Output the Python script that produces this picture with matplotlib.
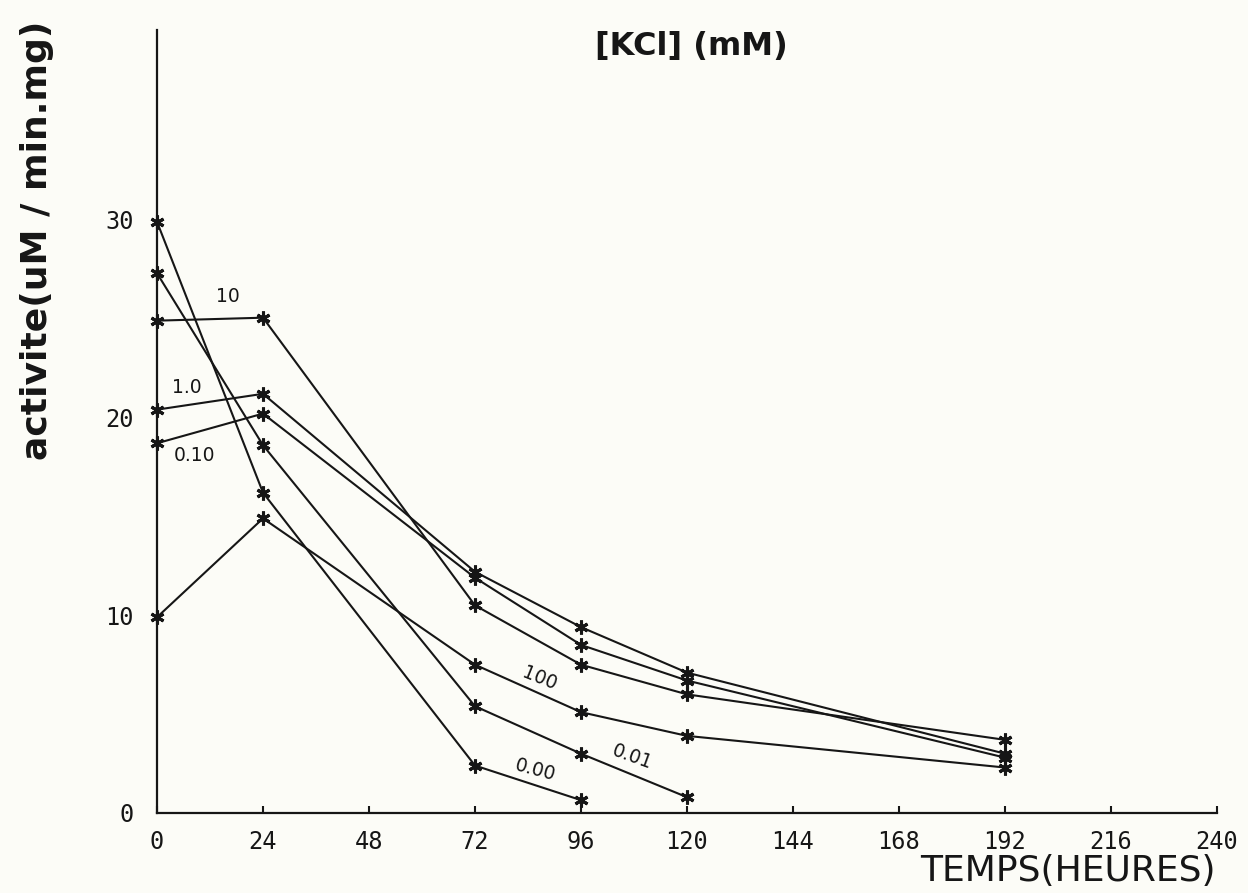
import matplotlib
matplotlib.use("Agg")
import matplotlib.pyplot as plt

# ─── DATA ─────────────────────────────────────────────────────────────────────
hours_000 = [0, 24, 72, 96]
act_000   = [29.9, 16.2, 2.4, 0.65]

hours_001 = [0, 24, 72, 96, 120]
act_001   = [27.3, 18.6, 5.4, 3.0, 0.8]

hours_full = [0, 24, 72, 96, 120, 192]
act_010    = [18.7, 20.2, 11.9, 8.5, 6.7, 2.8]
act_1      = [20.4, 21.2, 12.2, 9.4, 7.1, 3.0]
act_10     = [24.9, 25.05, 10.5, 7.5, 6.0, 3.7]
act_100    = [9.9, 14.9, 7.5, 5.1, 3.9, 2.3]

series_labels = ["0.00", "0.01", "0.10", "1.0", "10", "100"]
x_ticks = [0, 24, 48, 72, 96, 120, 144, 168, 192, 216, 240]
y_ticks = [0, 10, 20, 30]

# ─── STYLE ────────────────────────────────────────────────────────────────────
INK      = '#161616'
PAPER    = '#fcfcf7'
MARKER   = (6, 2, 0)          # six-armed plotter asterisk
TICKFONT = 'DejaVu Sans Mono'

# where each concentration label sits (data coords) and its tilt
label_pos = {
    "0.00": (85.6, 2.15, -15),
    "0.01": (107.5, 2.85, -20),
    "0.10": (8.6, 18.1, 0),
    "1.0":  (6.8, 21.5, 0),
    "10":   (16.1, 26.1, 0),
    "100":  (86.7, 6.8, -22),
}


def main():
    fig = plt.figure(figsize=(12.48, 8.93), dpi=100, facecolor=PAPER)
    ax = fig.add_axes([157 / 1248, 1 - 813 / 893, 1060 / 1248, 783 / 893])
    ax.set_facecolor(PAPER)

    curves = [
        (hours_000, act_000),
        (hours_001, act_001),
        (hours_full, act_010),
        (hours_full, act_1),
        (hours_full, act_10),
        (hours_full, act_100),
    ]
    for (t, v), name in zip(curves, series_labels):
        ax.plot(t, v, color=INK, linewidth=1.5, marker=MARKER,
                markersize=10, markeredgewidth=2.2, clip_on=False, zorder=3)
        lx, ly, rot = label_pos[name]
        ax.text(lx, ly, name, fontsize=13.5, color=INK, rotation=rot,
                ha='center', va='center', rotation_mode='anchor')

    ax.set_xlim(0, 240)
    ax.set_ylim(0, 39.6)

    for side in ('top', 'right'):
        ax.spines[side].set_visible(False)
    for side in ('left', 'bottom'):
        ax.spines[side].set_linewidth(1.6)
        ax.spines[side].set_color(INK)

    ax.set_xticks(x_ticks)
    ax.set_xticklabels([str(x) for x in x_ticks], fontfamily=TICKFONT, fontsize=17)
    ax.set_yticks(y_ticks)
    ax.set_yticklabels([str(y) for y in y_ticks], fontfamily=TICKFONT, fontsize=17)
    ax.tick_params(axis='x', direction='in', length=5, width=1.5, colors=INK, pad=12)
    ax.tick_params(axis='y', direction='in', length=0, width=1.5, colors=INK, pad=17)

    fig.text(691 / 1248, 1 - 47 / 893, "[KCl] (mM)", fontsize=23,
             fontweight='semibold', color=INK, ha='center', va='center')
    fig.text(37 / 1248, 1 - 240 / 893, "activite(uM / min.mg)", fontsize=26,
             fontweight='semibold', color=INK, rotation=90,
             ha='center', va='center')
    fig.text(1216 / 1248, 1 - 871 / 893, "TEMPS(HEURES)", fontsize=26,
             color=INK, ha='right', va='center')

    fig.savefig("out.png", dpi=100, facecolor=PAPER)


if __name__ == "__main__":
    main()
